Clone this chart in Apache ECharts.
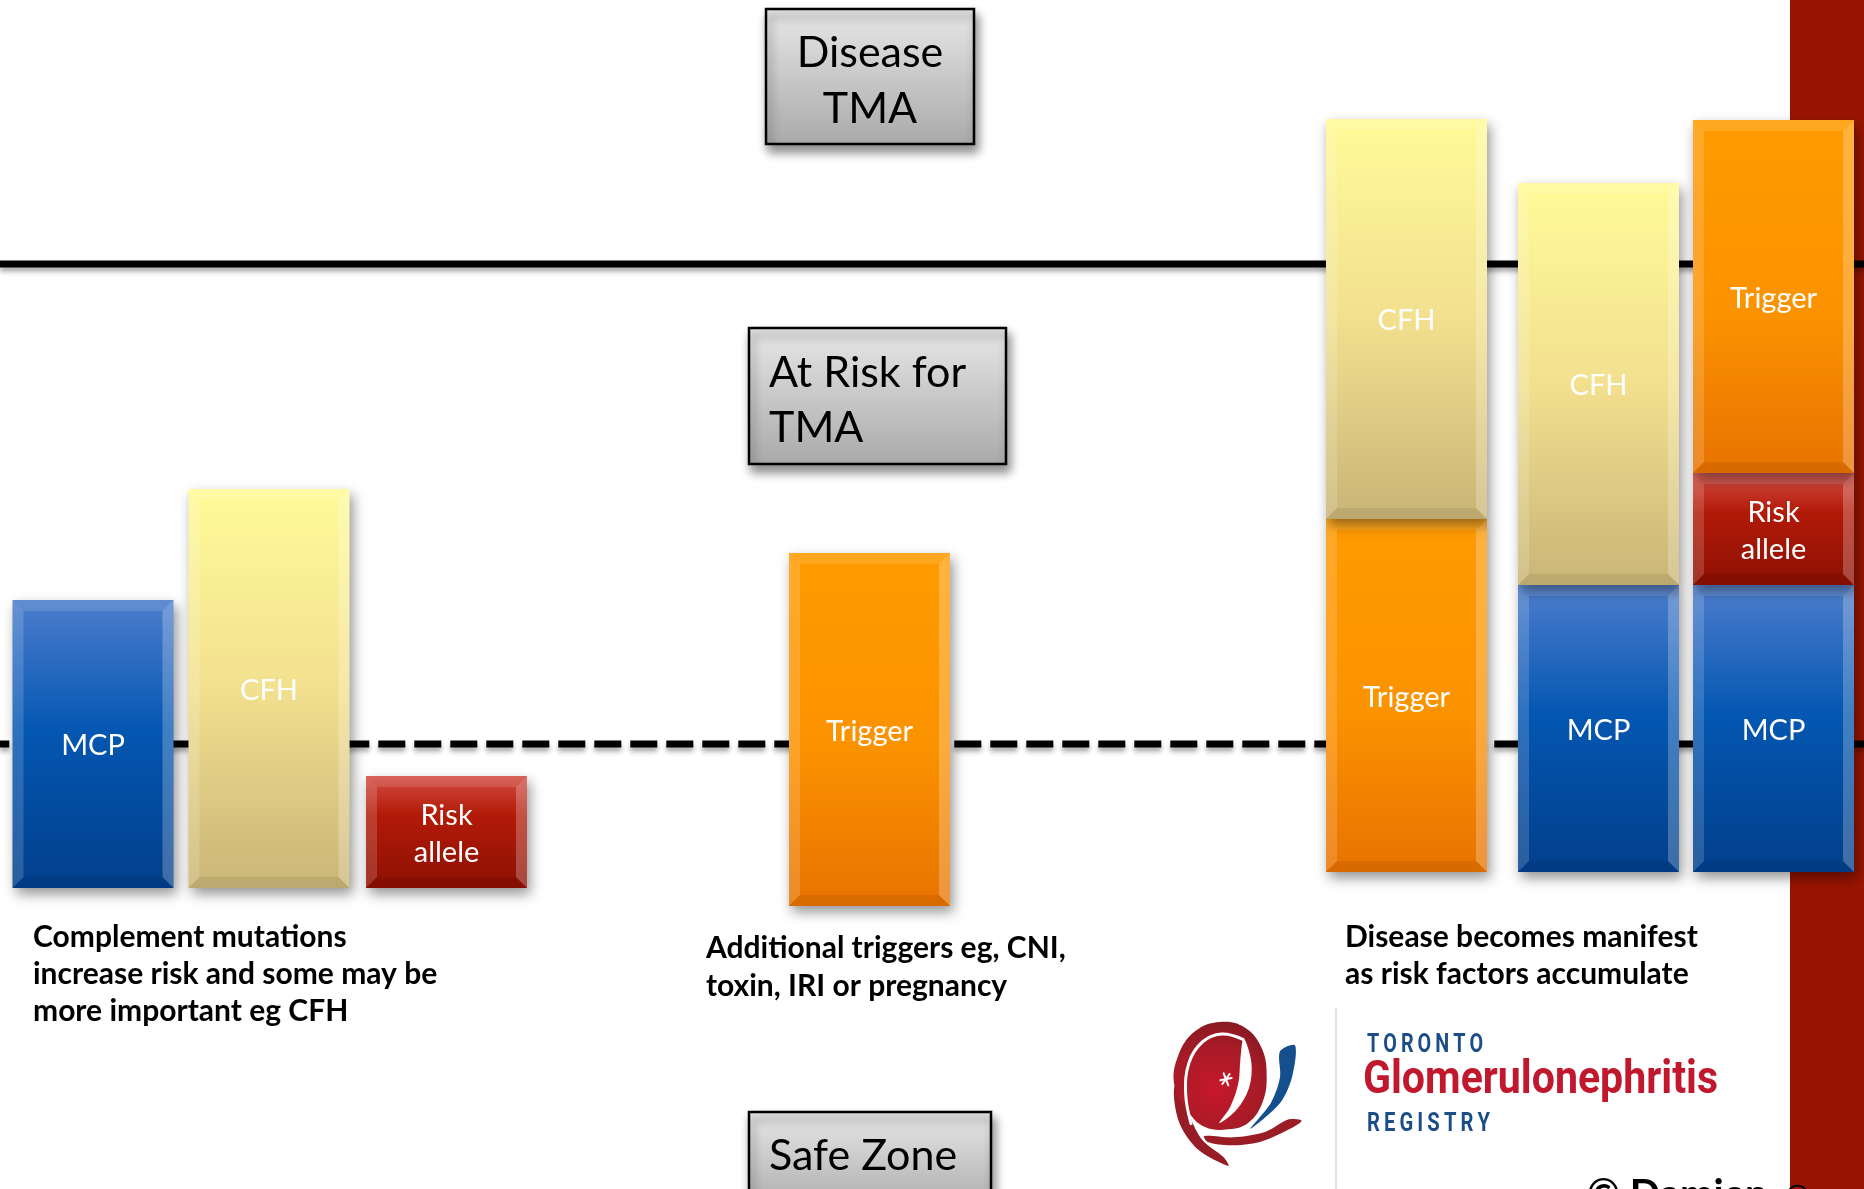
<!DOCTYPE html>
<html><head><meta charset="utf-8">
<script src="https://cdn.jsdelivr.net/npm/echarts@6/dist/echarts.min.js"></script>
<style>html,body{margin:0;padding:0;background:#fff;overflow:hidden}#chart{width:1864px;height:1189px}</style>
</head><body><div id="chart"></div>
<script>
// ---------------- data ----------------
const columnPos   = [0.93, 2.69, 4.465, 8.695, 14.065, 15.985, 17.735];
const columnBase  = [0, 0, 0, -0.18, 0.16, 0.16, 0.16];
const segColumn   = [0, 1, 2, 3, 4, 4, 5, 5, 6, 6, 6];
const segFactor   = ['MCP', 'CFH', 'Risk allele', 'Trigger', 'Trigger', 'CFH', 'MCP', 'CFH', 'MCP', 'Risk allele', 'Trigger'];
const segSize     = [2.88, 3.99, 1.12, 3.53, 3.53, 4.00, 2.87, 4.02, 2.87, 1.12, 3.53];
const thresholdNames  = ['Disease threshold', 'At-risk threshold'];
const thresholdValues = [6.24, 1.44];
const zoneDisease = ['Disease', 'TMA'];
const zoneAtRisk  = ['At Risk for', 'TMA'];
const zoneSafe    = ['Safe Zone'];
const noteLeft    = ['Complement mutations', 'increase risk and some may be', 'more important eg CFH'];
const noteMiddle  = ['Additional triggers eg, CNI,', 'toxin, IRI or pregnancy'];
const noteRight   = ['Disease becomes manifest', 'as risk factors accumulate'];
const logoLines   = ['TORONTO', 'Glomerulonephritis', 'REGISTRY'];
const creditText  = '© Damien ☺';

// ---------------- style ----------------
const X_MIN = 0, X_MAX = 18.64, Y_MIN = -3, Y_MAX = 8;
const BAR_W = 1.61;
const PALETTE = {
  'MCP':        [[0, '#4d7dcc'], [0.45, '#0457b2'], [1, '#023f8b']],
  'CFH':        [[0, '#fffa98'], [0.5, '#f2e08f'], [1, '#c9b577']],
  'Risk allele':[[0, '#d24c42'], [0.35, '#b21a08'], [1, '#8d1003']],
  'Trigger':    [[0, '#ff9b00'], [0.55, '#fb9200'], [1, '#e87300']]
};
function grad(stops) {
  return new echarts.graphic.LinearGradient(0, 0, 0, 1, stops.map(s => ({offset: s[0], color: s[1]})));
}

// stacked segments
const colTop = columnBase.slice();
const segData = segFactor.map((f, i) => {
  const c = segColumn[i];
  const b = colTop[c];
  colTop[c] = b + segSize[i];
  return [columnPos[c], b, colTop[c], i];
});

function renderBar(params, api) {
  const x = api.value(0), b = api.value(1), t = api.value(2), i = api.value(3);
  const p0 = api.coord([x, t]), p1 = api.coord([x, b]);
  const w = api.size([BAR_W, 0])[0];
  const X = p0[0] - w / 2, Y = p0[1], H = p1[1] - p0[1];
  const bv = 11;
  const name = segFactor[i];
  return {
    type: 'group',
    children: [
      {type: 'rect', shape: {x: X, y: Y, width: w, height: H},
       style: {fill: grad(PALETTE[name]), shadowBlur: 12, shadowOffsetX: 3, shadowOffsetY: 6, shadowColor: 'rgba(0,0,0,0.42)'}},
      {type: 'polygon', shape: {points: [[X, Y], [X + bv, Y + bv], [X + bv, Y + H - bv], [X, Y + H]]}, style: {fill: 'rgba(255,255,255,0.16)'}},
      {type: 'polygon', shape: {points: [[X + w, Y], [X + w - bv, Y + bv], [X + w - bv, Y + H - bv], [X + w, Y + H]]}, style: {fill: 'rgba(255,255,255,0.24)'}},
      {type: 'polygon', shape: {points: [[X, Y], [X + w, Y], [X + w - bv, Y + bv], [X + bv, Y + bv]]}, style: {fill: 'rgba(255,255,255,0.12)'}},
      {type: 'polygon', shape: {points: [[X, Y + H], [X + w, Y + H], [X + w - bv, Y + H - bv], [X + bv, Y + H - bv]]}, style: {fill: 'rgba(0,0,0,0.07)'}},
      {type: 'text', style: {text: name.replace(' ', '\n'), x: X + w / 2, y: Y + H / 2 + 2, fill: '#ffffff',
        font: '29px Lato', align: 'center', verticalAlign: 'middle', lineHeight: 37}}
    ]
  };
}

const lineSeries = thresholdValues.map((v, k) => ({
  type: 'line', name: thresholdNames[k], silent: true, symbol: 'none', z: 2,
  data: [[X_MIN, v], [X_MAX, v]],
  lineStyle: {color: '#000', width: 7, type: k === 0 ? 'solid' : [27, 9], dashOffset: 17.7, cap: 'butt',
    shadowBlur: 5, shadowOffsetY: 4, shadowColor: 'rgba(0,0,0,0.35)'}
}));

// text fitting helper
const mctx = document.createElement('canvas').getContext('2d');
function fitScale(text, font, target) { mctx.font = font; return target / mctx.measureText(text).width; }

function boxGroup(x, y, w, h, lines, align, tx, ys) {
  const ch = [{type: 'rect', shape: {x: x, y: y, width: w, height: h},
    style: {fill: grad([[0, '#e8e8e8'], [1, '#a9a9a9']]), stroke: '#000', lineWidth: 2.5,
      shadowBlur: 10, shadowOffsetX: 3, shadowOffsetY: 7, shadowColor: 'rgba(0,0,0,0.45)'}}];
  lines.forEach((t, k) => ch.push({type: 'text', x: tx, y: ys[k],
    style: {text: t, font: '43px Lato', fill: '#000', align: align, verticalAlign: 'middle'}}));
  return {type: 'group', z: 10, children: ch};
}
function noteGroup(lines, x, ys) {
  return {type: 'group', z: 10, children: lines.map((t, k) => ({type: 'text', x: x, y: ys[k],
    style: {text: t, font: 'bold 30px Lato', fill: '#000', align: 'left', verticalAlign: 'middle'}}))};
}

const f1 = 'bold 26px Roboto', f2 = 'bold 46px Roboto', f3 = 'bold 25px Roboto';
const spaced = s => s.split('').join('\u2009');
const logoText = [
  {type: 'text', x: 1367, y: 1045, scaleX: fitScale(spaced(logoLines[0]), f1, 116),
   style: {text: spaced(logoLines[0]), font: f1, fill: '#1b4d87', align: 'left', verticalAlign: 'middle'}},
  {type: 'text', x: 1363, y: 1081, scaleX: fitScale(logoLines[1], f2, 355),
   style: {text: logoLines[1], font: f2, fill: '#c2182e', align: 'left', verticalAlign: 'middle'}},
  {type: 'text', x: 1367, y: 1125, scaleX: fitScale(spaced(logoLines[2]), f3, 123),
   style: {text: spaced(logoLines[2]), font: f3, fill: '#1b4d87', align: 'left', verticalAlign: 'middle'}}
];

const redFill = new echarts.graphic.RadialGradient(0.45, 0.62, 0.75,
  [{offset: 0, color: '#c8182b'}, {offset: 0.6, color: '#a91b27'}, {offset: 1, color: '#861a22'}]);
const logoMark = {
  type: 'group', x: 1165, y: 1012, scaleX: 1 / 3, scaleY: 1 / 3, z: 10,
  children: [
    // tail of the outer band
    {type: 'polygon', shape: {points: [[28, 225], [42, 330], [98, 412], [190, 462], [176, 436], [112, 384], [74, 308], [64, 225]], smooth: 0.3},
     style: {fill: '#961c25'}},
    // main red body
    {type: 'polygon', shape: {points: [[28, 220], [40, 130], [90, 58], [165, 30], [240, 47], [290, 108], [305, 192], [292, 272], [250, 332], [190, 352], [120, 345], [70, 300]], smooth: 0.4},
     style: {fill: redFill}},
    // white gap between band and kidney
    {type: 'polyline', shape: {points: [[78, 335], [62, 245], [72, 152], [112, 90], [170, 66], [234, 82]], smooth: 0.4},
     style: {fill: null, stroke: '#ffffff', lineWidth: 9, lineCap: 'round'}},
    // white crescent
    {type: 'polygon', shape: {points: [[236, 80], [259, 150], [252, 228], [214, 294], [163, 333], [196, 284], [220, 214], [226, 145]], smooth: 0.35},
     style: {fill: '#ffffff'}},
    // bottom swoosh
    {type: 'polygon', shape: {points: [[118, 372], [205, 376], [300, 360], [372, 322], [410, 326], [372, 352], [285, 390], [195, 400], [128, 390]], smooth: 0.3},
     style: {fill: '#9a1d26'}},
    // blue crescent
    {type: 'polygon', shape: {points: [[345, 118], [390, 100], [382, 192], [346, 272], [256, 350], [318, 272], [345, 196]], smooth: 0.3},
     style: {fill: '#164f8d'}},
    // star
    {type: 'line', shape: {x1: 166, y1: 205, x2: 200, y2: 198}, style: {stroke: '#fff', lineWidth: 6, lineCap: 'round'}},
    {type: 'line', shape: {x1: 176, y1: 184, x2: 190, y2: 220}, style: {stroke: '#fff', lineWidth: 6, lineCap: 'round'}},
    {type: 'line', shape: {x1: 194, y1: 186, x2: 172, y2: 216}, style: {stroke: '#fff', lineWidth: 6, lineCap: 'round'}}
  ]
};

const chart = echarts.init(document.getElementById('chart'), null, {renderer: 'canvas'});
chart.setOption({
  animation: false,
  backgroundColor: '#ffffff',
  grid: {left: 0, right: 0, top: 88, bottom: 1, containLabel: false},
  xAxis: {type: 'value', min: X_MIN, max: X_MAX, show: false},
  yAxis: {type: 'value', min: Y_MIN, max: Y_MAX, show: false},
  graphic: [
    {type: 'rect', z: 0, shape: {x: 1790, y: 0, width: 74, height: 1189}, style: {fill: '#991400'}},
    {type: 'line', z: 0, shape: {x1: 1336, y1: 1008, x2: 1336, y2: 1189}, style: {stroke: '#e2e2e2', lineWidth: 2}},
    boxGroup(766, 9, 208, 135, zoneDisease, 'center', 870, [53, 109]),
    boxGroup(749, 328, 257, 136, zoneAtRisk, 'left', 769, [373, 428]),
    boxGroup(749, 1112, 242, 100, zoneSafe, 'left', 769, [1156]),
    noteGroup(noteLeft, 33, [937, 974, 1011]),
    noteGroup(noteMiddle, 706, [948, 986]),
    noteGroup(noteRight, 1345, [937, 974]),
    logoMark,
    {type: 'group', z: 10, children: logoText},
    {type: 'text', z: 20, x: 1587, y: 1195, style: {text: creditText, font: 'bold 40px Lato', fill: '#000', align: 'left', verticalAlign: 'middle'}}
  ],
  series: lineSeries.concat([{
    type: 'custom', name: 'Risk factors', z: 3, silent: true,
    renderItem: renderBar,
    encode: {x: 0, y: [1, 2]},
    data: segData
  }])
});
</script>
</body></html>
